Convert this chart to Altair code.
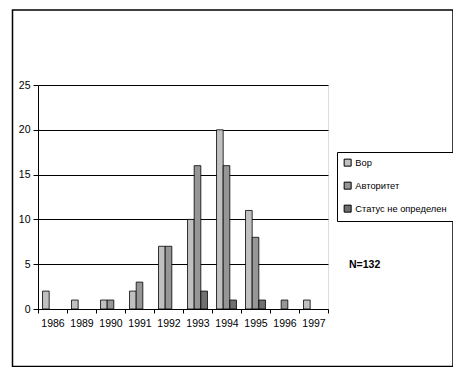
import altair as alt
import pandas as pd

years = ["1986", "1989", "1990", "1991", "1992", "1993", "1994", "1995", "1996", "1997"]
series = ["Вор", "Авторитет", "Статус не определен"]
vor = [2, 1, 1, 2, 7, 10, 20, 11, 0, 1]
avtoritet = [0, 0, 1, 3, 7, 16, 16, 8, 1, 0]
status = [0, 0, 0, 0, 0, 2, 1, 1, 0, 0]
colors = ["#c0c0c0", "#969696", "#707070"]
note = "N=132"

rows = []
for name, vals in zip(series, [vor, avtoritet, status]):
    for y, v in zip(years, vals):
        if v > 0:
            rows.append({"year": y, "series": name, "value": v})
df = pd.DataFrame(rows)

FONT = "Liberation Sans"

bars = alt.Chart(df).mark_bar(stroke="black", strokeWidth=0.8, opacity=1).encode(
    x=alt.X("year:N", sort=years, scale=alt.Scale(domain=years, paddingInner=0, paddingOuter=0),
            axis=alt.Axis(title=None, labelAngle=0, tickBand="extent", tickSize=4, labelPadding=5,
                          labelFontSize=10.5, labelFont=FONT, labelColor="black",
                          domainColor="black", tickColor="black", grid=False)),
    xOffset=alt.XOffset("series:N", sort=series,
                        scale=alt.Scale(domain=series, paddingInner=0, paddingOuter=0.68)),
    y=alt.Y("value:Q", scale=alt.Scale(domain=[0, 25], nice=False),
            axis=alt.Axis(title=None, values=[0, 5, 10, 15, 20, 25], tickSize=5, labelPadding=3,
                          labelFontSize=10.5, labelFont=FONT, labelColor="black",
                          domainColor="black", tickColor="black",
                          grid=True, gridColor="black", gridWidth=1)),
    color=alt.Color("series:N", sort=series,
                    scale=alt.Scale(domain=series, range=colors),
                    legend=alt.Legend(title=None, orient="none", legendX=299, legendY=67,
                                      symbolType="square", symbolSize=49,
                                      symbolStrokeColor="black", symbolStrokeWidth=1,
                                      labelFontSize=9.3, labelFont=FONT, labelColor="black",
                                      labelOffset=3, rowPadding=11, padding=6,
                                      strokeColor="black", fillColor="white")),
)

frame = alt.Chart(pd.DataFrame({"a": [0]})).mark_rect(
    fill="white", fillOpacity=0, stroke="black", strokeWidth=1.5
).encode(x=alt.value(-25.5), x2=alt.value(415), y=alt.value(-75), y2=alt.value(281.5))

label = alt.Chart(pd.DataFrame({"t": [note]})).mark_text(
    align="left", baseline="middle", fontWeight="bold", fontSize=10.5, font=FONT, color="black"
).encode(x=alt.value(311), y=alt.value(180), text="t:N")

chart = alt.layer(frame, bars, label).properties(
    width=290, height=224,
    autosize=alt.AutoSizeParams(type="none"),
    padding={"left": 30, "top": 77, "right": 125, "bottom": 58},
).configure_view(stroke="black", strokeWidth=1).configure(background="white")

chart.save("out.html", embed_options={"renderer": "svg", "actions": False})
